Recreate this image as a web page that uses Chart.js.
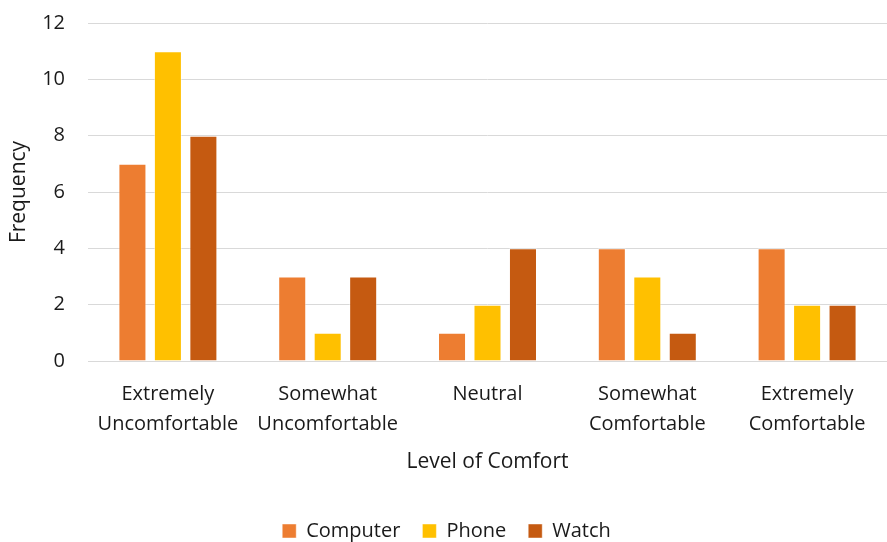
<!DOCTYPE html>
<html lang="en">
<head>
    <meta charset="UTF-8">
    <title>Level of Comfort</title>
    <script src="https://cdn.jsdelivr.net/npm/chart.js"></script>
    <style>
        body { margin: 0; background: #fff; }
        #wrap { width: 887px; height: 542px; }
    </style>
</head>
<body>
    <div id="wrap"><canvas id="comfortChart" width="887" height="542"></canvas></div>

    <script>
        // Survey counts per comfort level
        const levels = [
            ["Extremely", "Uncomfortable"],
            ["Somewhat", "Uncomfortable"],
            "Neutral",
            ["Somewhat", "Comfortable"],
            ["Extremely", "Comfortable"]
        ];
        const computer = [7, 3, 1, 4, 4];
        const phone = [11, 1, 2, 3, 2];
        const watch = [8, 3, 4, 1, 2];

        const font = "'Open Sans', sans-serif";
        const ink = "#1a1a1a";

        function series(label, data, color) {
            return {
                label, data,
                backgroundColor: color,
                borderColor: "rgba(255,255,255,0.45)",
                borderWidth: 1,
                categoryPercentage: 0.666,
                barPercentage: 0.79
            };
        }

        new Chart(document.getElementById("comfortChart"), {
            type: "bar",
            data: {
                labels: levels,
                datasets: [
                    series("Computer", computer, "#ED7D31"),
                    series("Phone", phone, "#FFC000"),
                    series("Watch", watch, "#C55A11")
                ]
            },
            options: {
                responsive: false,
                animation: false,
                // legend sits close to the bottom edge
                layout: { padding: { top: 23, right: 0, bottom: -9, left: 6 } },
                plugins: {
                    tooltip: { enabled: false },
                    legend: {
                        position: "bottom",
                        labels: {
                            font: { family: font, size: 20 },
                            color: ink,
                            boxWidth: 14,
                            boxHeight: 14,
                            padding: 22
                        }
                    }
                },
                scales: {
                    x: {
                        grid: { display: false },
                        border: { color: "#d9d9d9" },
                        ticks: { font: { family: font, size: 20, lineHeight: 1.47 }, color: ink, padding: 11 },
                        title: {
                            display: true,
                            text: "Level of Comfort",
                            font: { family: font, size: 21 },
                            color: ink,
                            padding: { top: 0, bottom: 24 }
                        }
                    },
                    y: {
                        min: 0, max: 12,
                        ticks: { stepSize: 2, font: { family: font, size: 20 }, color: ink, padding: 23 },
                        grid: { color: "#d9d9d9", drawTicks: false },
                        border: { display: false },
                        title: {
                            display: true,
                            text: "Frequency",
                            font: { family: font, size: 21 },
                            color: ink,
                            padding: { top: 0, bottom: 6 }
                        },
                        // fixed axis width; top spacing comes from layout padding only
                        afterFit: (s) => { s.width = 82; s.paddingTop = 0; }
                    }
                }
            }
        });
    </script>
</body>
</html>
